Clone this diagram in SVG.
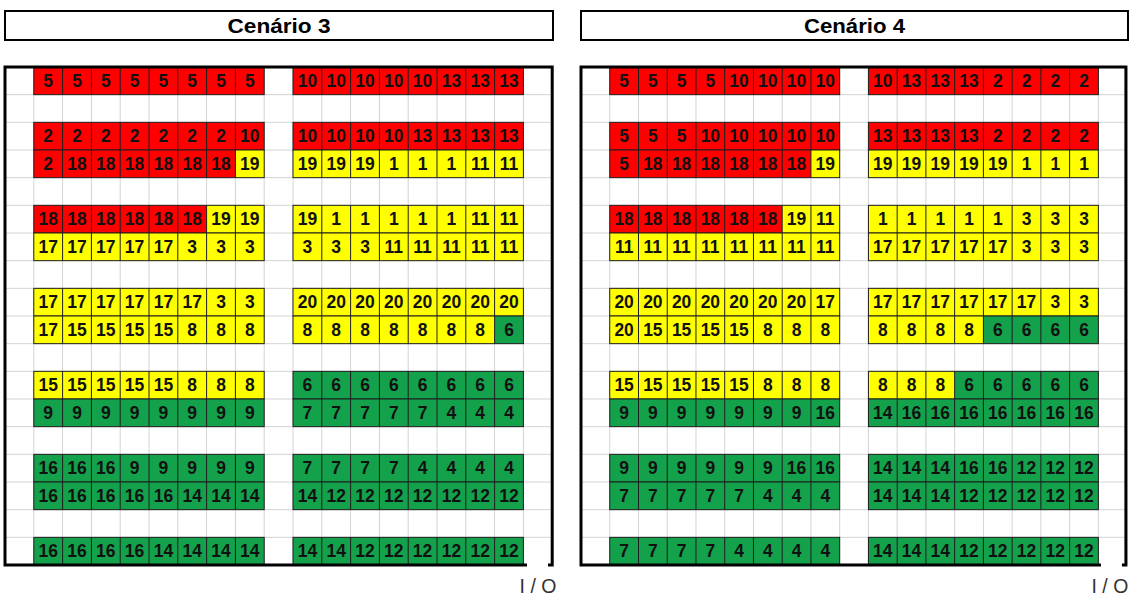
<svg xmlns="http://www.w3.org/2000/svg" xmlns:xlink="http://www.w3.org/1999/xlink" width="1133" height="597" viewBox="0 0 1133 597">
<style>
.title{font-family:"Liberation Sans",Arial,sans-serif;font-weight:bold;font-size:20px;fill:#000;text-anchor:middle}
.io{font-family:"Liberation Sans",Arial,sans-serif;font-size:19.5px;fill:#333;text-anchor:middle}
.box{fill:#fff;stroke:#000;stroke-width:2}
.grid{fill:none;stroke:#d4d4d4;stroke-width:1}
.wall{fill:none;stroke:#000;stroke-width:3}
.R{fill:#ff0000}.Y{fill:#ffff00}.G{fill:#14a14c}
.blk{fill:none;stroke:#1e1e1e;stroke-width:1}
.num{font-family:"Liberation Sans",Arial,sans-serif;font-weight:bold;font-size:17.5px;fill:#111;text-anchor:middle}
</style>
<defs>
<path id="gridlines" class="grid" d="M0 0V498M28.8 0V498M57.6 0V498M86.4 0V498M115.2 0V498M144 0V498M172.8 0V498M201.6 0V498M230.4 0V498M259.2 0V498M288 0V498M316.8 0V498M345.6 0V498M374.4 0V498M403.2 0V498M432 0V498M460.8 0V498M489.6 0V498M518.4 0V498M547.2 0V498M0 27.67H547.2M0 55.33H547.2M0 83H547.2M0 110.67H547.2M0 138.33H547.2M0 166H547.2M0 193.67H547.2M0 221.33H547.2M0 249H547.2M0 276.67H547.2M0 304.33H547.2M0 332H547.2M0 359.67H547.2M0 387.33H547.2M0 415H547.2M0 442.67H547.2M0 470.33H547.2"/>
<g id="blk" class="blk"><rect width="230.4" height="27.67"/><path d="M28.8 0v27.67M57.6 0v27.67M86.4 0v27.67M115.2 0v27.67M144 0v27.67M172.8 0v27.67M201.6 0v27.67"/></g>
<g id="pair"><use xlink:href="#blk" href="#blk" x="28.8"/><use xlink:href="#blk" href="#blk" x="288"/></g>
</defs>

<g id="title3"><rect class="box" x="5" y="11" width="548" height="29"/><text class="title" x="279" y="32.5" textLength="103" lengthAdjust="spacingAndGlyphs">Cenário 3</text></g>
<g id="title4"><rect class="box" x="581" y="11" width="547" height="29"/><text class="title" x="854.5" y="32.5" textLength="101" lengthAdjust="spacingAndGlyphs">Cenário 4</text></g>

<g id="cenario3" transform="translate(5,67)">
<use xlink:href="#gridlines" href="#gridlines"/>
<g id="c3r0"><rect class="R" x="28.8" width="230.4" height="27.67"/><rect class="R" x="288" width="230.4" height="27.67"/><use href="#pair" xlink:href="#pair"/>
<text class="num" y="20"><tspan x="43.2">5</tspan><tspan x="72">5</tspan><tspan x="100.8">5</tspan><tspan x="129.6">5</tspan><tspan x="158.4">5</tspan><tspan x="187.2">5</tspan><tspan x="216">5</tspan><tspan x="244.8">5</tspan><tspan x="302.4">10</tspan><tspan x="331.2">10</tspan><tspan x="360">10</tspan><tspan x="388.8">10</tspan><tspan x="417.6">10</tspan><tspan x="446.4">13</tspan><tspan x="475.2">13</tspan><tspan x="504">13</tspan></text></g>
<g id="c3r2" transform="translate(0,55.33)"><rect class="R" x="28.8" width="230.4" height="27.67"/><rect class="R" x="288" width="230.4" height="27.67"/><use href="#pair" xlink:href="#pair"/>
<text class="num" y="20"><tspan x="43.2">2</tspan><tspan x="72">2</tspan><tspan x="100.8">2</tspan><tspan x="129.6">2</tspan><tspan x="158.4">2</tspan><tspan x="187.2">2</tspan><tspan x="216">2</tspan><tspan x="244.8">10</tspan><tspan x="302.4">10</tspan><tspan x="331.2">10</tspan><tspan x="360">10</tspan><tspan x="388.8">10</tspan><tspan x="417.6">13</tspan><tspan x="446.4">13</tspan><tspan x="475.2">13</tspan><tspan x="504">13</tspan></text></g>
<g id="c3r3" transform="translate(0,83)"><rect class="R" x="28.8" width="201.6" height="27.67"/><rect class="Y" x="230.4" width="28.8" height="27.67"/><rect class="Y" x="288" width="230.4" height="27.67"/><use href="#pair" xlink:href="#pair"/>
<text class="num" y="20"><tspan x="43.2">2</tspan><tspan x="72">18</tspan><tspan x="100.8">18</tspan><tspan x="129.6">18</tspan><tspan x="158.4">18</tspan><tspan x="187.2">18</tspan><tspan x="216">18</tspan><tspan x="244.8">19</tspan><tspan x="302.4">19</tspan><tspan x="331.2">19</tspan><tspan x="360">19</tspan><tspan x="388.8">1</tspan><tspan x="417.6">1</tspan><tspan x="446.4">1</tspan><tspan x="475.2">11</tspan><tspan x="504">11</tspan></text></g>
<g id="c3r5" transform="translate(0,138.33)"><rect class="R" x="28.8" width="172.8" height="27.67"/><rect class="Y" x="201.6" width="57.6" height="27.67"/><rect class="Y" x="288" width="230.4" height="27.67"/><use href="#pair" xlink:href="#pair"/>
<text class="num" y="20"><tspan x="43.2">18</tspan><tspan x="72">18</tspan><tspan x="100.8">18</tspan><tspan x="129.6">18</tspan><tspan x="158.4">18</tspan><tspan x="187.2">18</tspan><tspan x="216">19</tspan><tspan x="244.8">19</tspan><tspan x="302.4">19</tspan><tspan x="331.2">1</tspan><tspan x="360">1</tspan><tspan x="388.8">1</tspan><tspan x="417.6">1</tspan><tspan x="446.4">1</tspan><tspan x="475.2">11</tspan><tspan x="504">11</tspan></text></g>
<g id="c3r6" transform="translate(0,166)"><rect class="Y" x="28.8" width="230.4" height="27.67"/><rect class="Y" x="288" width="230.4" height="27.67"/><use href="#pair" xlink:href="#pair"/>
<text class="num" y="20"><tspan x="43.2">17</tspan><tspan x="72">17</tspan><tspan x="100.8">17</tspan><tspan x="129.6">17</tspan><tspan x="158.4">17</tspan><tspan x="187.2">3</tspan><tspan x="216">3</tspan><tspan x="244.8">3</tspan><tspan x="302.4">3</tspan><tspan x="331.2">3</tspan><tspan x="360">3</tspan><tspan x="388.8">11</tspan><tspan x="417.6">11</tspan><tspan x="446.4">11</tspan><tspan x="475.2">11</tspan><tspan x="504">11</tspan></text></g>
<g id="c3r8" transform="translate(0,221.33)"><rect class="Y" x="28.8" width="230.4" height="27.67"/><rect class="Y" x="288" width="230.4" height="27.67"/><use href="#pair" xlink:href="#pair"/>
<text class="num" y="20"><tspan x="43.2">17</tspan><tspan x="72">17</tspan><tspan x="100.8">17</tspan><tspan x="129.6">17</tspan><tspan x="158.4">17</tspan><tspan x="187.2">17</tspan><tspan x="216">3</tspan><tspan x="244.8">3</tspan><tspan x="302.4">20</tspan><tspan x="331.2">20</tspan><tspan x="360">20</tspan><tspan x="388.8">20</tspan><tspan x="417.6">20</tspan><tspan x="446.4">20</tspan><tspan x="475.2">20</tspan><tspan x="504">20</tspan></text></g>
<g id="c3r9" transform="translate(0,249)"><rect class="Y" x="28.8" width="230.4" height="27.67"/><rect class="Y" x="288" width="201.6" height="27.67"/><rect class="G" x="489.6" width="28.8" height="27.67"/><use href="#pair" xlink:href="#pair"/>
<text class="num" y="20"><tspan x="43.2">17</tspan><tspan x="72">15</tspan><tspan x="100.8">15</tspan><tspan x="129.6">15</tspan><tspan x="158.4">15</tspan><tspan x="187.2">8</tspan><tspan x="216">8</tspan><tspan x="244.8">8</tspan><tspan x="302.4">8</tspan><tspan x="331.2">8</tspan><tspan x="360">8</tspan><tspan x="388.8">8</tspan><tspan x="417.6">8</tspan><tspan x="446.4">8</tspan><tspan x="475.2">8</tspan><tspan x="504">6</tspan></text></g>
<g id="c3r11" transform="translate(0,304.33)"><rect class="Y" x="28.8" width="230.4" height="27.67"/><rect class="G" x="288" width="230.4" height="27.67"/><use href="#pair" xlink:href="#pair"/>
<text class="num" y="20"><tspan x="43.2">15</tspan><tspan x="72">15</tspan><tspan x="100.8">15</tspan><tspan x="129.6">15</tspan><tspan x="158.4">15</tspan><tspan x="187.2">8</tspan><tspan x="216">8</tspan><tspan x="244.8">8</tspan><tspan x="302.4">6</tspan><tspan x="331.2">6</tspan><tspan x="360">6</tspan><tspan x="388.8">6</tspan><tspan x="417.6">6</tspan><tspan x="446.4">6</tspan><tspan x="475.2">6</tspan><tspan x="504">6</tspan></text></g>
<g id="c3r12" transform="translate(0,332)"><rect class="G" x="28.8" width="230.4" height="27.67"/><rect class="G" x="288" width="230.4" height="27.67"/><use href="#pair" xlink:href="#pair"/>
<text class="num" y="20"><tspan x="43.2">9</tspan><tspan x="72">9</tspan><tspan x="100.8">9</tspan><tspan x="129.6">9</tspan><tspan x="158.4">9</tspan><tspan x="187.2">9</tspan><tspan x="216">9</tspan><tspan x="244.8">9</tspan><tspan x="302.4">7</tspan><tspan x="331.2">7</tspan><tspan x="360">7</tspan><tspan x="388.8">7</tspan><tspan x="417.6">7</tspan><tspan x="446.4">4</tspan><tspan x="475.2">4</tspan><tspan x="504">4</tspan></text></g>
<g id="c3r14" transform="translate(0,387.33)"><rect class="G" x="28.8" width="230.4" height="27.67"/><rect class="G" x="288" width="230.4" height="27.67"/><use href="#pair" xlink:href="#pair"/>
<text class="num" y="20"><tspan x="43.2">16</tspan><tspan x="72">16</tspan><tspan x="100.8">16</tspan><tspan x="129.6">9</tspan><tspan x="158.4">9</tspan><tspan x="187.2">9</tspan><tspan x="216">9</tspan><tspan x="244.8">9</tspan><tspan x="302.4">7</tspan><tspan x="331.2">7</tspan><tspan x="360">7</tspan><tspan x="388.8">7</tspan><tspan x="417.6">4</tspan><tspan x="446.4">4</tspan><tspan x="475.2">4</tspan><tspan x="504">4</tspan></text></g>
<g id="c3r15" transform="translate(0,415)"><rect class="G" x="28.8" width="230.4" height="27.67"/><rect class="G" x="288" width="230.4" height="27.67"/><use href="#pair" xlink:href="#pair"/>
<text class="num" y="20"><tspan x="43.2">16</tspan><tspan x="72">16</tspan><tspan x="100.8">16</tspan><tspan x="129.6">16</tspan><tspan x="158.4">16</tspan><tspan x="187.2">14</tspan><tspan x="216">14</tspan><tspan x="244.8">14</tspan><tspan x="302.4">14</tspan><tspan x="331.2">12</tspan><tspan x="360">12</tspan><tspan x="388.8">12</tspan><tspan x="417.6">12</tspan><tspan x="446.4">12</tspan><tspan x="475.2">12</tspan><tspan x="504">12</tspan></text></g>
<g id="c3r17" transform="translate(0,470.33)"><rect class="G" x="28.8" width="230.4" height="27.67"/><rect class="G" x="288" width="230.4" height="27.67"/><use href="#pair" xlink:href="#pair"/>
<text class="num" y="20"><tspan x="43.2">16</tspan><tspan x="72">16</tspan><tspan x="100.8">16</tspan><tspan x="129.6">16</tspan><tspan x="158.4">14</tspan><tspan x="187.2">14</tspan><tspan x="216">14</tspan><tspan x="244.8">14</tspan><tspan x="302.4">14</tspan><tspan x="331.2">14</tspan><tspan x="360">12</tspan><tspan x="388.8">12</tspan><tspan x="417.6">12</tspan><tspan x="446.4">12</tspan><tspan x="475.2">12</tspan><tspan x="504">12</tspan></text></g>
<path class="wall" d="M522 498H0V0H547.2V498H543"/>
<text class="io" x="533" y="526">I / O</text>
</g>

<g id="cenario4" transform="translate(581,67) scale(0.998,1)">
<use xlink:href="#gridlines" href="#gridlines"/>
<g id="c4r0"><rect class="R" x="28.8" width="230.4" height="27.67"/><rect class="R" x="288" width="230.4" height="27.67"/><use href="#pair" xlink:href="#pair"/>
<text class="num" y="20"><tspan x="43.2">5</tspan><tspan x="72">5</tspan><tspan x="100.8">5</tspan><tspan x="129.6">5</tspan><tspan x="158.4">10</tspan><tspan x="187.2">10</tspan><tspan x="216">10</tspan><tspan x="244.8">10</tspan><tspan x="302.4">10</tspan><tspan x="331.2">13</tspan><tspan x="360">13</tspan><tspan x="388.8">13</tspan><tspan x="417.6">2</tspan><tspan x="446.4">2</tspan><tspan x="475.2">2</tspan><tspan x="504">2</tspan></text></g>
<g id="c4r2" transform="translate(0,55.33)"><rect class="R" x="28.8" width="230.4" height="27.67"/><rect class="R" x="288" width="230.4" height="27.67"/><use href="#pair" xlink:href="#pair"/>
<text class="num" y="20"><tspan x="43.2">5</tspan><tspan x="72">5</tspan><tspan x="100.8">5</tspan><tspan x="129.6">10</tspan><tspan x="158.4">10</tspan><tspan x="187.2">10</tspan><tspan x="216">10</tspan><tspan x="244.8">10</tspan><tspan x="302.4">13</tspan><tspan x="331.2">13</tspan><tspan x="360">13</tspan><tspan x="388.8">13</tspan><tspan x="417.6">2</tspan><tspan x="446.4">2</tspan><tspan x="475.2">2</tspan><tspan x="504">2</tspan></text></g>
<g id="c4r3" transform="translate(0,83)"><rect class="R" x="28.8" width="201.6" height="27.67"/><rect class="Y" x="230.4" width="28.8" height="27.67"/><rect class="Y" x="288" width="230.4" height="27.67"/><use href="#pair" xlink:href="#pair"/>
<text class="num" y="20"><tspan x="43.2">5</tspan><tspan x="72">18</tspan><tspan x="100.8">18</tspan><tspan x="129.6">18</tspan><tspan x="158.4">18</tspan><tspan x="187.2">18</tspan><tspan x="216">18</tspan><tspan x="244.8">19</tspan><tspan x="302.4">19</tspan><tspan x="331.2">19</tspan><tspan x="360">19</tspan><tspan x="388.8">19</tspan><tspan x="417.6">19</tspan><tspan x="446.4">1</tspan><tspan x="475.2">1</tspan><tspan x="504">1</tspan></text></g>
<g id="c4r5" transform="translate(0,138.33)"><rect class="R" x="28.8" width="172.8" height="27.67"/><rect class="Y" x="201.6" width="57.6" height="27.67"/><rect class="Y" x="288" width="230.4" height="27.67"/><use href="#pair" xlink:href="#pair"/>
<text class="num" y="20"><tspan x="43.2">18</tspan><tspan x="72">18</tspan><tspan x="100.8">18</tspan><tspan x="129.6">18</tspan><tspan x="158.4">18</tspan><tspan x="187.2">18</tspan><tspan x="216">19</tspan><tspan x="244.8">11</tspan><tspan x="302.4">1</tspan><tspan x="331.2">1</tspan><tspan x="360">1</tspan><tspan x="388.8">1</tspan><tspan x="417.6">1</tspan><tspan x="446.4">3</tspan><tspan x="475.2">3</tspan><tspan x="504">3</tspan></text></g>
<g id="c4r6" transform="translate(0,166)"><rect class="Y" x="28.8" width="230.4" height="27.67"/><rect class="Y" x="288" width="230.4" height="27.67"/><use href="#pair" xlink:href="#pair"/>
<text class="num" y="20"><tspan x="43.2">11</tspan><tspan x="72">11</tspan><tspan x="100.8">11</tspan><tspan x="129.6">11</tspan><tspan x="158.4">11</tspan><tspan x="187.2">11</tspan><tspan x="216">11</tspan><tspan x="244.8">11</tspan><tspan x="302.4">17</tspan><tspan x="331.2">17</tspan><tspan x="360">17</tspan><tspan x="388.8">17</tspan><tspan x="417.6">17</tspan><tspan x="446.4">3</tspan><tspan x="475.2">3</tspan><tspan x="504">3</tspan></text></g>
<g id="c4r8" transform="translate(0,221.33)"><rect class="Y" x="28.8" width="230.4" height="27.67"/><rect class="Y" x="288" width="230.4" height="27.67"/><use href="#pair" xlink:href="#pair"/>
<text class="num" y="20"><tspan x="43.2">20</tspan><tspan x="72">20</tspan><tspan x="100.8">20</tspan><tspan x="129.6">20</tspan><tspan x="158.4">20</tspan><tspan x="187.2">20</tspan><tspan x="216">20</tspan><tspan x="244.8">17</tspan><tspan x="302.4">17</tspan><tspan x="331.2">17</tspan><tspan x="360">17</tspan><tspan x="388.8">17</tspan><tspan x="417.6">17</tspan><tspan x="446.4">17</tspan><tspan x="475.2">3</tspan><tspan x="504">3</tspan></text></g>
<g id="c4r9" transform="translate(0,249)"><rect class="Y" x="28.8" width="230.4" height="27.67"/><rect class="Y" x="288" width="115.2" height="27.67"/><rect class="G" x="403.2" width="115.2" height="27.67"/><use href="#pair" xlink:href="#pair"/>
<text class="num" y="20"><tspan x="43.2">20</tspan><tspan x="72">15</tspan><tspan x="100.8">15</tspan><tspan x="129.6">15</tspan><tspan x="158.4">15</tspan><tspan x="187.2">8</tspan><tspan x="216">8</tspan><tspan x="244.8">8</tspan><tspan x="302.4">8</tspan><tspan x="331.2">8</tspan><tspan x="360">8</tspan><tspan x="388.8">8</tspan><tspan x="417.6">6</tspan><tspan x="446.4">6</tspan><tspan x="475.2">6</tspan><tspan x="504">6</tspan></text></g>
<g id="c4r11" transform="translate(0,304.33)"><rect class="Y" x="28.8" width="230.4" height="27.67"/><rect class="Y" x="288" width="86.4" height="27.67"/><rect class="G" x="374.4" width="144" height="27.67"/><use href="#pair" xlink:href="#pair"/>
<text class="num" y="20"><tspan x="43.2">15</tspan><tspan x="72">15</tspan><tspan x="100.8">15</tspan><tspan x="129.6">15</tspan><tspan x="158.4">15</tspan><tspan x="187.2">8</tspan><tspan x="216">8</tspan><tspan x="244.8">8</tspan><tspan x="302.4">8</tspan><tspan x="331.2">8</tspan><tspan x="360">8</tspan><tspan x="388.8">6</tspan><tspan x="417.6">6</tspan><tspan x="446.4">6</tspan><tspan x="475.2">6</tspan><tspan x="504">6</tspan></text></g>
<g id="c4r12" transform="translate(0,332)"><rect class="G" x="28.8" width="230.4" height="27.67"/><rect class="G" x="288" width="230.4" height="27.67"/><use href="#pair" xlink:href="#pair"/>
<text class="num" y="20"><tspan x="43.2">9</tspan><tspan x="72">9</tspan><tspan x="100.8">9</tspan><tspan x="129.6">9</tspan><tspan x="158.4">9</tspan><tspan x="187.2">9</tspan><tspan x="216">9</tspan><tspan x="244.8">16</tspan><tspan x="302.4">14</tspan><tspan x="331.2">16</tspan><tspan x="360">16</tspan><tspan x="388.8">16</tspan><tspan x="417.6">16</tspan><tspan x="446.4">16</tspan><tspan x="475.2">16</tspan><tspan x="504">16</tspan></text></g>
<g id="c4r14" transform="translate(0,387.33)"><rect class="G" x="28.8" width="230.4" height="27.67"/><rect class="G" x="288" width="230.4" height="27.67"/><use href="#pair" xlink:href="#pair"/>
<text class="num" y="20"><tspan x="43.2">9</tspan><tspan x="72">9</tspan><tspan x="100.8">9</tspan><tspan x="129.6">9</tspan><tspan x="158.4">9</tspan><tspan x="187.2">9</tspan><tspan x="216">16</tspan><tspan x="244.8">16</tspan><tspan x="302.4">14</tspan><tspan x="331.2">14</tspan><tspan x="360">14</tspan><tspan x="388.8">16</tspan><tspan x="417.6">16</tspan><tspan x="446.4">12</tspan><tspan x="475.2">12</tspan><tspan x="504">12</tspan></text></g>
<g id="c4r15" transform="translate(0,415)"><rect class="G" x="28.8" width="230.4" height="27.67"/><rect class="G" x="288" width="230.4" height="27.67"/><use href="#pair" xlink:href="#pair"/>
<text class="num" y="20"><tspan x="43.2">7</tspan><tspan x="72">7</tspan><tspan x="100.8">7</tspan><tspan x="129.6">7</tspan><tspan x="158.4">7</tspan><tspan x="187.2">4</tspan><tspan x="216">4</tspan><tspan x="244.8">4</tspan><tspan x="302.4">14</tspan><tspan x="331.2">14</tspan><tspan x="360">14</tspan><tspan x="388.8">12</tspan><tspan x="417.6">12</tspan><tspan x="446.4">12</tspan><tspan x="475.2">12</tspan><tspan x="504">12</tspan></text></g>
<g id="c4r17" transform="translate(0,470.33)"><rect class="G" x="28.8" width="230.4" height="27.67"/><rect class="G" x="288" width="230.4" height="27.67"/><use href="#pair" xlink:href="#pair"/>
<text class="num" y="20"><tspan x="43.2">7</tspan><tspan x="72">7</tspan><tspan x="100.8">7</tspan><tspan x="129.6">7</tspan><tspan x="158.4">4</tspan><tspan x="187.2">4</tspan><tspan x="216">4</tspan><tspan x="244.8">4</tspan><tspan x="302.4">14</tspan><tspan x="331.2">14</tspan><tspan x="360">14</tspan><tspan x="388.8">12</tspan><tspan x="417.6">12</tspan><tspan x="446.4">12</tspan><tspan x="475.2">12</tspan><tspan x="504">12</tspan></text></g>
<path class="wall" d="M521 498H0V0H546V498H542"/>
<text class="io" x="530" y="526">I / O</text>
</g>
</svg>
